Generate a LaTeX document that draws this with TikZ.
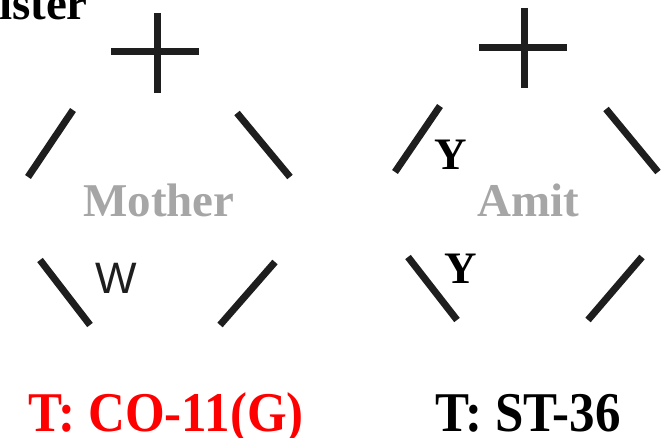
\documentclass[tikz,border=0pt]{standalone}
\usepackage{fontspec}
\setmainfont{Liberation Serif}
\newfontfamily\arialf{Liberation Sans}
\usetikzlibrary{positioning}
\definecolor{gris}{RGB}{166,166,166}
\definecolor{rojo}{RGB}{255,0,0}
\definecolor{trazo}{RGB}{30,30,30}
\tikzset{
  palo/.style={line width=7pt, draw=trazo},
  nombre/.style={font=\fontsize{47}{50}\selectfont\bfseries, text=gris, inner sep=0pt, anchor=base},
  marca/.style={font=\fontsize{45}{48}\selectfont\bfseries, inner sep=0pt, anchor=base},
  letra/.style={font=\arialf\fontsize{44}{46}\selectfont, text=trazo, inner sep=0pt, anchor=base},
  etiq/.style={font=\fontsize{51}{54}\selectfont\bfseries, inner sep=0pt, anchor=base},
}

\begin{document}
\begin{tikzpicture}[x=1pt, y=-1pt]
  \useasboundingbox (0,0) rectangle (666,438);
  \clip (0,0) rectangle (666,438);
  % cut-off heading
  \node[marca, font=\fontsize{47}{50}\selectfont\bfseries, anchor=base east] (cab) at (88,20) {Sister};

  % left symbol
  \draw[palo] (157,13) -- (157,93);
  \draw[palo] (111,52) -- (199,52);
  \draw[palo] (28,177) -- (73,110);
  \draw[palo] (237,113) -- (290,177);
  \draw[palo] (40,260) -- (90,325);
  \draw[palo] (275,262) -- (220,325);
  \node[nombre] (madre) at (159,217) {Mother};
  \node[letra] (w) at (116,293) {W};

  % right symbol
  \draw[palo] (524,8) -- (524,88);
  \draw[palo] (479,48) -- (567,48);
  \draw[palo] (395,172) -- (440,106);
  \draw[palo] (606,109) -- (658,172);
  \draw[palo] (408,257) -- (457,320);
  \draw[palo] (642,257) -- (588,320);
  \node[nombre] (amit) at (528,217) {Amit};
  \node[marca] (y1) at (451,170) {Y};
  \node[marca] (y2) at (461,283) {Y};

  % labels
  \node[etiq, text=rojo] (tizq) at (166,431) {\scalebox{1}[1.1]{T: CO-11(G)}};
  \node[etiq] (tder) at (528,431) {\scalebox{1}[1.1]{T: ST-36}};
\end{tikzpicture}
\end{document}
